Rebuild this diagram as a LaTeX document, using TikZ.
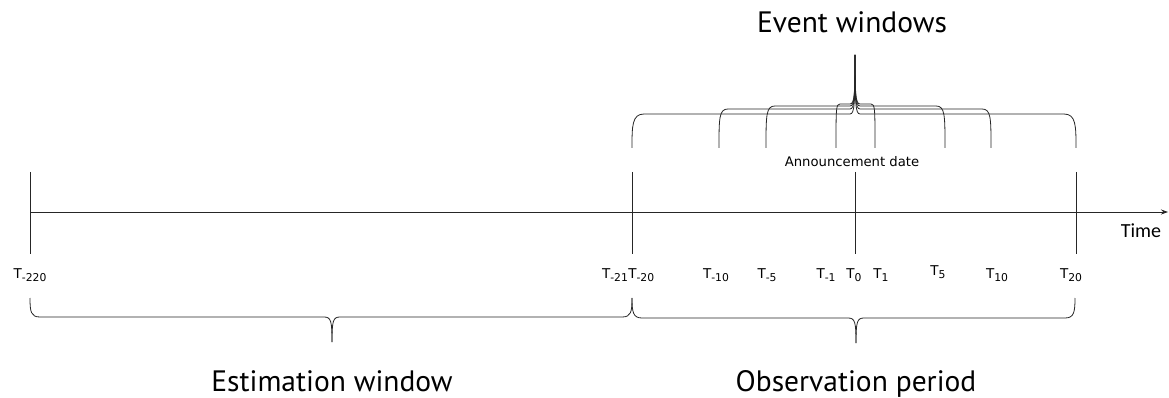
\documentclass[tikz,border=0pt]{standalone}
\usepackage{fontspec}
\setmainfont{DejaVu Sans}
\newfontfamily\titlefont{PT Sans}
\newfontfamily\timefont{Carlito}
\usetikzlibrary{arrows.meta}
\newcommand\Tlab[1]{T\raisebox{-0.45ex}{\fontsize{10.8}{11}\selectfont #1}}
\begin{document}
\begin{tikzpicture}[x=1pt,y=-1pt,
  line/.style={line width=0.8pt,black!85},
  ticklab/.style={anchor=base,inner sep=0pt,font=\fontsize{13.5}{14}\selectfont},
  bigtitle/.style={anchor=base,inner sep=0pt,font=\titlefont\fontsize{29.5}{31}\selectfont},
  smalllab/.style={inner sep=0pt,font=\fontsize{13.2}{14}\selectfont}]
\useasboundingbox (0,0) rectangle (1169,398);
% axis
\coordinate (axL) at (30,212);
\coordinate (axR) at (1168,212);
\draw[line,-{Stealth[length=7pt,width=5pt]}] (axL) -- (axR);
% ticks
\foreach \n/\x in {a/30,b/632,c/855,d/1076}{
  \coordinate (t\n top) at (\x,172);
  \coordinate (t\n bot) at (\x,254);
  \draw[line] (t\n top) -- (t\n bot);
}
% tick labels
\node[ticklab] (l220) at (30,278) {\Tlab{-220}};
\node[ticklab] (l21) at (615,278) {\Tlab{-21}};
\node[ticklab,anchor=base west] (l20) at (l21.base east) {\Tlab{-20}};
\node[ticklab] (l10) at (716,278) {\Tlab{-10}};
\node[ticklab] (l5) at (767,278) {\Tlab{-5}};
\node[ticklab] (l1) at (826,278) {\Tlab{-1}};
\node[ticklab] (p0) at (854,278) {\Tlab{0}};
\node[ticklab] (p1) at (881,278) {\Tlab{1}};
\node[ticklab] (p5) at (938,275) {\Tlab{5}};
\node[ticklab] (p10) at (997,278) {\Tlab{10}};
\node[ticklab] (p20) at (1071,278) {\Tlab{20}};
\node[anchor=base,inner sep=0pt,font=\timefont\fontsize{20}{22}\selectfont] (time) at (1141,237) {Time};
\node[smalllab] (ann) at (852,162) {Announcement date};
\node[bigtitle] (ew) at (852,33) {Event windows};
\node[bigtitle] (est) at (332,391) {Estimation window};
\node[bigtitle] (obs) at (856,391) {Observation period};
% event window braces
\coordinate (tip) at (855,55);
\foreach \xl/\xr/\yh/\r in {632/1076/114/12,719/991/109/9,766/945/106/9,836/875/104/4}{
  \draw[line] (\xl,148) .. controls (\xl,{\yh+\r}) and (\xl,\yh) .. ({\xl+\r},\yh)
     -- (850,\yh) .. controls (854.5,\yh) and (855,{\yh-10}) .. (tip);
  \draw[line] (\xr,148) .. controls (\xr,{\yh+\r}) and (\xr,\yh) .. ({\xr-\r},\yh)
     -- (860,\yh) .. controls (855.5,\yh) and (855,{\yh-10}) .. (tip);
}
% bottom braces
\coordinate (e1) at (30,298);
\coordinate (mid) at (632,298);
\coordinate (e2) at (1075,298);
\coordinate (estip) at (332,342);
\coordinate (obtip) at (856,343);
\draw[line] (e1) .. controls (30,312) and (31,317) .. (40,317) -- (324,317)
   .. controls (331,317) and (332,321) .. (estip);
\draw[line] (mid) .. controls (632,312) and (631,317) .. (622,317) -- (340,317)
   .. controls (333,317) and (332,321) .. (estip);
\draw[line] (mid) .. controls (632,312) and (633,318) .. (642,318) -- (848,318)
   .. controls (855,318) and (856,322) .. (obtip);
\draw[line] (e2) .. controls (1075,312) and (1074,318) .. (1065,318) -- (864,318)
   .. controls (857,318) and (856,322) .. (obtip);
\end{tikzpicture}
\end{document}
